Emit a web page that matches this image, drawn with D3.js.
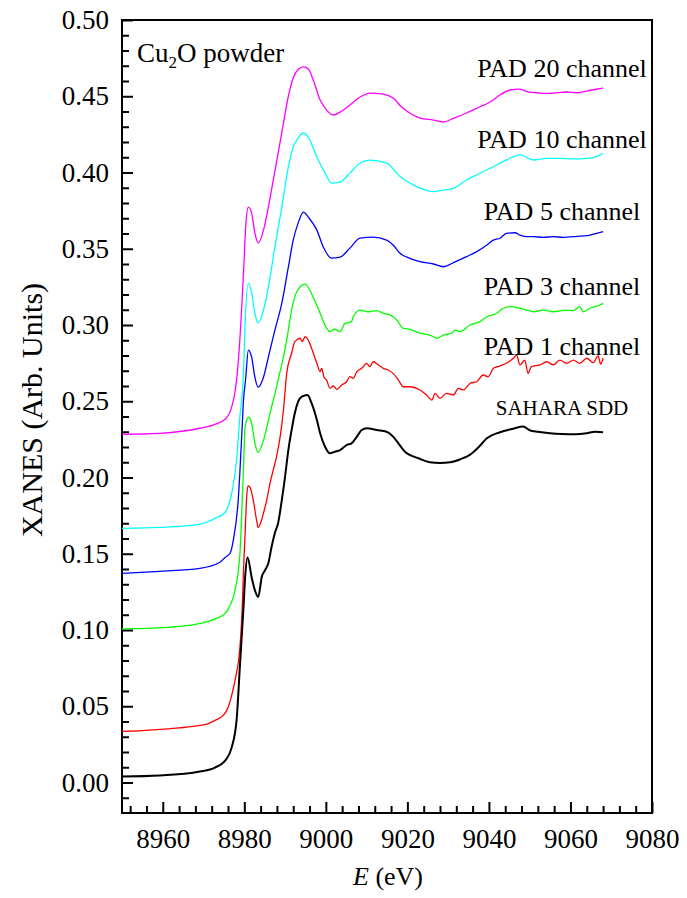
<!DOCTYPE html>
<html lang="en">
<head>
<meta charset="UTF-8">
<title>Cu2O XANES</title>
<style>
  body { margin: 0; background: #fff; }
  text { font-family: "Liberation Serif", "Times New Roman", serif; fill: #000; }
  .axis line { stroke: #000; stroke-width: 2; }
  .axis path { display: none; }
  .spectrum { fill: none; stroke-linejoin: round; }
</style>
</head>
<body>
<svg id="chart" width="687" height="898"></svg>
<script src="https://d3js.org/d3.v7.min.js"></script>
<script>
// energy (eV) / XANES values, one pair of arrays per detector
const sddE = [8950, 8959.3, 8969.1, 8972.8, 8975.3, 8976.9, 8978.1, 8978.9, 8979.8, 8980.2, 8980.8, 8981.8, 8982.6, 8983.4, 8984.3, 8985.1, 8985.9, 8986.7, 8987.5, 8988.3, 8989.2, 8990.0, 8990.8, 8991.6, 8992.4, 8993.2, 8994.1, 8995.5, 8996.5, 8997.8, 8998.6, 8999.8, 9001.0, 9002.2, 9003.5, 9005.1, 9006.3, 9007.6, 9008.8, 9010.0, 9012.5, 9014.9, 9016.5, 9017.8, 9019.4, 9020.6, 9022.7, 9025.5, 9028.0, 9030.5, 9033.0, 9035.4, 9037.5, 9039.5, 9042.7, 9046.0, 9048.4, 9050.0, 9052.0, 9055.0, 9058.0, 9061.1, 9064.0, 9066.0, 9068.0];
const sddV = [0.0039, 0.0046, 0.0072, 0.0098, 0.0144, 0.0230, 0.0407, 0.0755, 0.1148, 0.1345, 0.1476, 0.1345, 0.1260, 0.1216, 0.1350, 0.1393, 0.1439, 0.1546, 0.1636, 0.1702, 0.1852, 0.2005, 0.2180, 0.2311, 0.2423, 0.2497, 0.2530, 0.2541, 0.2487, 0.2377, 0.2290, 0.2202, 0.2159, 0.2169, 0.2180, 0.2213, 0.2224, 0.2268, 0.2311, 0.2323, 0.2311, 0.2300, 0.2268, 0.2224, 0.2169, 0.2148, 0.2126, 0.2100, 0.2095, 0.2100, 0.2120, 0.2150, 0.2200, 0.2257, 0.2297, 0.2320, 0.2335, 0.2310, 0.2300, 0.2290, 0.2285, 0.2283, 0.2290, 0.2300, 0.2297];

const pad1E = [8950, 8955, 8959.3, 8964, 8969.1, 8971, 8972.8, 8974.8, 8976.0, 8976.8, 8977.5, 8978.1, 8978.6, 8979.1, 8979.5, 8979.8, 8980.2, 8980.6, 8980.9, 8981.3, 8982.2, 8983.0, 8983.4, 8984.1, 8984.9, 8985.5, 8986.3, 8987.1, 8987.9, 8988.8, 8989.6, 8990.4, 8991.6, 8992.4, 8993.7, 8994.2, 8994.9, 8995.7, 8996.5, 8997.8, 8998.6, 8999.0, 8999.5, 9000.2, 9001.0, 9001.8, 9002.7, 9003.9, 9005.1, 9005.9, 9006.7, 9007.6, 9008.8, 9010.0, 9010.8, 9011.6, 9012.9, 9014.1, 9015.3, 9016.5, 9017.8, 9019.0, 9020.6, 9023.1, 9024.7, 9026.0, 9026.8, 9028.0, 9029.6, 9031.3, 9032.5, 9033.7, 9035.4, 9037.0, 9038.6, 9039.8, 9041.1, 9042.7, 9044.3, 9046.0, 9046.8, 9047.6, 9048.8, 9049.6, 9050.4, 9052.5, 9054.2, 9055.8, 9057.4, 9059.1, 9060.7, 9062.3, 9064.0, 9065.6, 9066.8, 9067.4, 9068.0];
const pad1V = [0.0335, 0.0340, 0.0348, 0.0358, 0.0374, 0.0385, 0.0407, 0.0440, 0.0490, 0.0560, 0.0640, 0.0720, 0.0800, 0.0950, 0.1150, 0.1391, 0.1634, 0.1880, 0.1945, 0.1940, 0.1852, 0.1721, 0.1672, 0.1710, 0.1787, 0.1852, 0.1962, 0.2049, 0.2136, 0.2268, 0.2443, 0.2683, 0.2815, 0.2891, 0.2913, 0.2891, 0.2923, 0.2902, 0.2847, 0.2749, 0.2694, 0.2716, 0.2661, 0.2639, 0.2585, 0.2600, 0.2578, 0.2607, 0.2628, 0.2661, 0.2650, 0.2694, 0.2716, 0.2749, 0.2727, 0.2759, 0.2738, 0.2716, 0.2705, 0.2683, 0.2639, 0.2595, 0.2595, 0.2574, 0.2541, 0.2508, 0.2552, 0.2519, 0.2552, 0.2541, 0.2585, 0.2574, 0.2618, 0.2628, 0.2672, 0.2661, 0.2716, 0.2731, 0.2749, 0.2782, 0.2803, 0.2738, 0.2770, 0.2683, 0.2727, 0.2738, 0.2759, 0.2738, 0.2770, 0.2749, 0.2770, 0.2749, 0.2782, 0.2753, 0.2797, 0.2744, 0.2782];

const pad3E = [8950, 8961.0, 8969.1, 8973.2, 8975.3, 8976.1, 8977.7, 8978.9, 8979.8, 8980.2, 8981.0, 8981.8, 8982.6, 8983.4, 8984.7, 8986.3, 8988.3, 8990.4, 8991.6, 8992.8, 8994.9, 8996.9, 8998.6, 9000.2, 9001.0, 9002.2, 9003.5, 9004.7, 9006.3, 9006.7, 9008.4, 9010.4, 9012.5, 9014.1, 9015.7, 9017.4, 9019.0, 9020.6, 9023.1, 9025.5, 9027.2, 9028.8, 9030.9, 9031.7, 9032.9, 9035.4, 9037.8, 9039.5, 9041.9, 9043.5, 9045.2, 9047.6, 9049.3, 9050.9, 9053.3, 9055.8, 9059.1, 9060.7, 9062.3, 9063.1, 9064.8, 9067.2, 9068.0];
const pad3V = [0.1007, 0.1017, 0.1043, 0.1076, 0.1109, 0.1142, 0.1260, 0.1490, 0.2067, 0.2329, 0.2395, 0.2356, 0.2224, 0.2165, 0.2244, 0.2421, 0.2638, 0.2900, 0.3097, 0.3215, 0.3268, 0.3182, 0.3077, 0.2978, 0.2956, 0.2972, 0.2956, 0.3011, 0.3022, 0.3054, 0.3098, 0.3087, 0.3094, 0.3077, 0.3066, 0.3033, 0.2978, 0.2972, 0.2946, 0.2934, 0.2913, 0.2934, 0.2946, 0.2967, 0.2956, 0.3000, 0.3022, 0.3054, 0.3077, 0.3110, 0.3120, 0.3110, 0.3098, 0.3087, 0.3098, 0.3087, 0.3098, 0.3094, 0.3120, 0.3087, 0.3110, 0.3131, 0.3142];

const pad5E = [8950, 8959.3, 8969.1, 8974.0, 8975.3, 8976.5, 8977.3, 8978.5, 8979.4, 8979.8, 8980.3, 8981.0, 8981.8, 8982.6, 8983.4, 8984.7, 8985.9, 8987.5, 8989.2, 8990.8, 8992.0, 8993.2, 8994.5, 8995.7, 8997.8, 8999.4, 9001.4, 9003.5, 9005.9, 9008.4, 9011.6, 9014.9, 9016.5, 9018.2, 9020.6, 9023.1, 9026.4, 9028.8, 9031.3, 9034.5, 9037.0, 9039.5, 9041.1, 9042.7, 9044.3, 9046.4, 9047.6, 9049.3, 9050.9, 9053.3, 9055.8, 9058.3, 9060.7, 9063.1, 9064.8, 9066.4, 9068.0];
const pad5V = [0.1371, 0.1385, 0.1404, 0.1444, 0.1476, 0.1503, 0.1588, 0.1850, 0.2290, 0.2507, 0.2638, 0.2835, 0.2789, 0.2657, 0.2592, 0.2657, 0.2789, 0.2966, 0.3143, 0.3379, 0.3556, 0.3668, 0.3740, 0.3707, 0.3622, 0.3510, 0.3438, 0.3445, 0.3504, 0.3570, 0.3576, 0.3556, 0.3525, 0.3470, 0.3437, 0.3415, 0.3400, 0.3382, 0.3409, 0.3448, 0.3481, 0.3525, 0.3557, 0.3569, 0.3601, 0.3605, 0.3590, 0.3579, 0.3579, 0.3575, 0.3579, 0.3575, 0.3579, 0.3584, 0.3590, 0.3601, 0.3612];

const pad10E = [8950, 8959.3, 8969.1, 8972.8, 8975.3, 8976.9, 8978.1, 8978.9, 8979.8, 8980.2, 8981.0, 8981.8, 8982.6, 8983.4, 8984.7, 8985.9, 8987.5, 8989.2, 8990.8, 8992.0, 8993.2, 8994.5, 8995.7, 8997.8, 8999.8, 9001.4, 9003.5, 9005.9, 9008.4, 9010.8, 9014.9, 9018.2, 9022.3, 9026.4, 9028.8, 9031.3, 9034.5, 9037.8, 9040.3, 9043.5, 9046.0, 9047.6, 9050.9, 9054.2, 9057.4, 9060.7, 9064.0, 9066.4, 9068.0];
const pad10V = [0.1667, 0.1673, 0.1693, 0.1732, 0.1772, 0.1896, 0.2113, 0.2395, 0.2684, 0.3012, 0.3274, 0.3209, 0.3077, 0.3012, 0.3097, 0.3248, 0.3510, 0.3773, 0.4035, 0.4167, 0.4226, 0.4259, 0.4232, 0.4101, 0.3996, 0.3930, 0.3937, 0.3996, 0.4062, 0.4081, 0.4062, 0.3973, 0.3907, 0.3874, 0.3885, 0.3896, 0.3951, 0.3995, 0.4028, 0.4071, 0.4104, 0.4115, 0.4082, 0.4093, 0.4093, 0.4089, 0.4093, 0.4104, 0.4126];

const pad20E = [8950, 8959.3, 8969.1, 8972.8, 8975.3, 8976.9, 8978.1, 8978.9, 8979.8, 8980.4, 8981.0, 8981.8, 8982.6, 8983.4, 8984.7, 8985.9, 8987.1, 8988.3, 8989.6, 8990.8, 8992.0, 8993.2, 8994.5, 8995.7, 8996.9, 8998.6, 9000.2, 9001.8, 9003.5, 9005.9, 9008.4, 9010.8, 9014.1, 9016.5, 9018.6, 9021.4, 9023.1, 9026.4, 9028.8, 9031.3, 9034.5, 9037.8, 9040.3, 9042.7, 9045.2, 9047.6, 9049.3, 9052.5, 9055.0, 9059.1, 9061.5, 9065.2, 9068.0];
const pad20V = [0.2283, 0.2290, 0.2323, 0.2349, 0.2382, 0.2461, 0.2638, 0.2900, 0.3340, 0.3668, 0.3773, 0.3734, 0.3602, 0.3537, 0.3622, 0.3773, 0.3950, 0.4127, 0.4324, 0.4500, 0.4620, 0.4675, 0.4692, 0.4678, 0.4606, 0.4475, 0.4409, 0.4377, 0.4396, 0.4442, 0.4495, 0.4521, 0.4514, 0.4488, 0.4429, 0.4377, 0.4357, 0.4344, 0.4331, 0.4355, 0.4390, 0.4431, 0.4462, 0.4508, 0.4541, 0.4547, 0.4530, 0.4521, 0.4519, 0.4528, 0.4523, 0.4541, 0.4554];

const seriesNames = ["SAHARA SDD", "PAD 1 channel", "PAD 3 channel", "PAD 5 channel", "PAD 10 channel", "PAD 20 channel"];
const xTicks = [8960, 8980, 9000, 9020, 9040, 9060, 9080];
const yTicks = [0.00, 0.05, 0.10, 0.15, 0.20, 0.25, 0.30, 0.35, 0.40, 0.45, 0.50];

const svg = d3.select("#chart");
const plotL = 122, plotR = 652, plotT = 20, plotB = 813;

const x = d3.scaleLinear().domain([8950, 9080]).range([plotL, plotR]);
const y = d3.scaleLinear().domain([-0.02, 0.50]).range([plotB, plotT]);

const series = [
  { name: seriesNames[0], E: sddE, V: sddV, color: "#000000", width: 2, labelY: 0.241, size: 21 },
  { name: seriesNames[1], E: pad1E, V: pad1V, color: "#ff0000", width: 1.3, labelY: 0.2803, size: 26 },
  { name: seriesNames[2], E: pad3E, V: pad3V, color: "#00ff00", width: 1.3, labelY: 0.3197, size: 26 },
  { name: seriesNames[3], E: pad5E, V: pad5V, color: "#0000ff", width: 1.3, labelY: 0.3689, size: 26 },
  { name: seriesNames[4], E: pad10E, V: pad10V, color: "#00ffff", width: 1.3, labelY: 0.4161, size: 26 },
  { name: seriesNames[5], E: pad20E, V: pad20V, color: "#ff00ff", width: 1.3, labelY: 0.4626, size: 26 }
];

// minor ticks first so majors sit on top
const xMinor = d3.range(8952, 9080, 4).filter(v => !xTicks.includes(v));
const yMinor = d3.range(-0.01, 0.5, 0.01).map(v => +v.toFixed(2)).filter(v => !yTicks.some(t => Math.abs(t - v) < 1e-6));

svg.append("g").attr("class", "axis")
  .attr("transform", `translate(0,${plotB})`)
  .call(d3.axisBottom(x).tickValues(xMinor).tickSizeInner(-7).tickSizeOuter(0).tickFormat(""));
svg.append("g").attr("class", "axis")
  .attr("transform", `translate(${plotL},0)`)
  .call(d3.axisLeft(y).tickValues(yMinor).tickSizeInner(-7).tickSizeOuter(0).tickFormat(""));

const xAxis = svg.append("g").attr("class", "axis")
  .attr("transform", `translate(0,${plotB})`)
  .call(d3.axisBottom(x).tickValues(xTicks).tickSizeInner(-11).tickSizeOuter(0).tickPadding(16).tickFormat(d3.format("d")));
xAxis.selectAll("text").attr("font-size", 27);

const yAxis = svg.append("g").attr("class", "axis")
  .attr("transform", `translate(${plotL},0)`)
  .call(d3.axisLeft(y).tickValues(yTicks).tickSizeInner(-11).tickSizeOuter(0).tickPadding(13).tickFormat(d3.format(".2f")));
yAxis.selectAll("text").attr("font-size", 27);

// frame
svg.append("rect")
  .attr("x", plotL).attr("y", plotT)
  .attr("width", plotR - plotL).attr("height", plotB - plotT)
  .attr("fill", "none").attr("stroke", "#000").attr("stroke-width", 2);

const line = d3.line().curve(d3.curveMonotoneX).x(d => x(d[0])).y(d => y(d[1]));

svg.append("g").selectAll("path")
  .data(series.slice().reverse())
  .join("path")
  .attr("class", "spectrum")
  .attr("stroke", d => d.color)
  .attr("stroke-width", d => d.width)
  .attr("d", d => line(d.E.map((e, i) => [e, d.V[i]])));

svg.append("g").selectAll("text")
  .data(series)
  .join("text")
  .attr("x", 562)
  .attr("y", d => y(d.labelY))
  .attr("text-anchor", "middle")
  .attr("font-size", d => d.size)
  .text(d => d.name);

// sample label with subscript
const sample = svg.append("text").attr("x", 137).attr("y", 62).attr("font-size", 27);
sample.append("tspan").text("Cu");
sample.append("tspan").attr("font-size", 17).attr("dy", 6).text("2");
sample.append("tspan").attr("dy", -6).text("O powder");

// axis titles
const xTitle = svg.append("text")
  .attr("x", 388).attr("y", 885)
  .attr("text-anchor", "middle")
  .attr("font-size", 26);
xTitle.append("tspan").attr("font-style", "italic").text("E");
xTitle.append("tspan").text(" (eV)");

svg.append("text")
  .attr("transform", "translate(42,410) rotate(-90)")
  .attr("text-anchor", "middle")
  .attr("font-size", 30)
  .text("XANES (Arb. Units)");
</script>
</body>
</html>
